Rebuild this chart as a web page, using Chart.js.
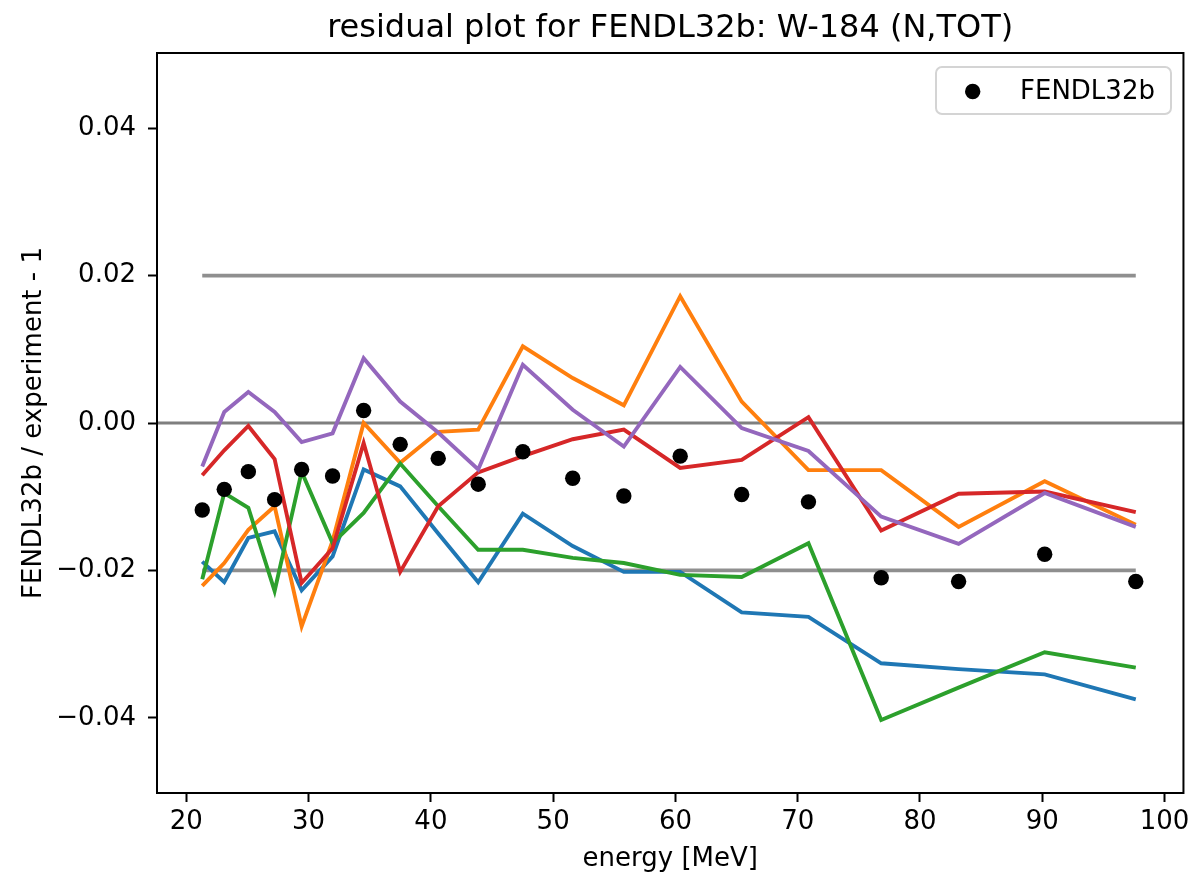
<!DOCTYPE html>
<html>
<head>
<meta charset="utf-8">
<script src="https://cdn.jsdelivr.net/npm/chart.js@4.4.0/dist/chart.umd.min.js"></script>
<style>
  html, body { margin: 0; padding: 0; background: #fff; }
  #wrap { width: 1194px; height: 878px; position: relative; }
</style>
</head>
<body>
<div id="wrap"><canvas id="chart"></canvas></div>
<script>
// energies [MeV] shared by all series
const energies = [21.3, 23.1, 25.07, 27.22, 29.43, 31.96, 34.5, 37.49, 40.6, 43.87,
                  47.52, 51.6, 55.78, 60.39, 65.42, 70.88, 76.83, 83.16, 90.2, 97.65];

// FENDL32b / experiment - 1 (black dots)
const fendl32b = [-0.0118, -0.0090, -0.0066, -0.0104, -0.0063, -0.0072, 0.0017, -0.0029, -0.0048, -0.0083,
                  -0.0039, -0.0075, -0.0099, -0.0045, -0.0097, -0.0107, -0.0210, -0.0215, -0.0178, -0.0215];

// the five coloured residual curves
const curveBlue = [-0.0188, -0.0216, -0.0156, -0.0147, -0.0227, -0.0181, -0.0063, -0.0086, -0.0150, -0.0216,
                   -0.0123, -0.0167, -0.0202, -0.0202, -0.0257, -0.0263, -0.0326, -0.0334, -0.0341, -0.0375];
const curveOrange = [-0.0221, -0.0190, -0.0145, -0.0113, -0.0276, -0.0160, 0.0000, -0.0054, -0.0012, -0.0009,
                     0.0104, 0.0061, 0.0024, 0.0172, 0.0029, -0.0064, -0.0064, -0.0141, -0.0079, -0.0138];
const curveGreen = [-0.0212, -0.0095, -0.0115, -0.0228, -0.0066, -0.0163, -0.0122, -0.0055, -0.0113, -0.0172,
                    -0.0172, -0.0183, -0.0190, -0.0206, -0.0209, -0.0163, -0.0403, -0.0359, -0.0311, -0.0332];
const curveRed = [-0.0071, -0.0037, -0.0004, -0.0049, -0.0217, -0.0170, -0.0027, -0.0202, -0.0113, -0.0067,
                  -0.0045, -0.0022, -0.0009, -0.0061, -0.0050, 0.0008, -0.0146, -0.0096, -0.0093, -0.0121];
const curvePurple = [-0.0059, 0.0015, 0.0042, 0.0015, -0.0026, -0.0014, 0.0088, 0.0029, -0.0013, -0.0063,
                     0.0079, 0.0018, -0.0032, 0.0076, -0.0007, -0.0038, -0.0127, -0.0164, -0.0095, -0.0141];

// reference lines
const bandLevels = [0.02, -0.02];
const zeroLevel = 0;

// axes
const xLimits = [17.6, 101.55];
const yLimits = [-0.0502, 0.0502];
const xTicks = [20, 30, 40, 50, 60, 70, 80, 90, 100];
const yTicks = [-0.04, -0.02, 0, 0.02, 0.04];
const yTickLabels = ['\u22120.04', '\u22120.02', '0.00', '0.02', '0.04'];

const chartTitle = 'residual plot for FENDL32b: W-184 (N,TOT)';

const FONT = 'DejaVu Sans';
Chart.defaults.font.family = FONT;
Chart.defaults.color = '#000';

const toPoints = (ys) => ys.map((y, i) => ({ x: energies[i], y: y }));
const last = energies.length - 1;

function curve(data, color) {
    return {
        data: toPoints(data),
        showLine: true,
        borderColor: color,
        backgroundColor: color,
        borderWidth: 3.9,
        pointRadius: 0,
        tension: 0,
    };
}

const datasets = [
    {
        label: 'FENDL32b',
        data: toPoints(fendl32b),
        backgroundColor: '#000',
        borderWidth: 0,
        pointRadius: 7.7,
        pointHoverRadius: 7.7,
    },
    curve(curvePurple, '#9467bd'),
    curve(curveRed, '#d62728'),
    curve(curveGreen, '#2ca02c'),
    curve(curveOrange, '#ff7f0e'),
    curve(curveBlue, '#1f77b4'),
    {
        data: [{ x: xLimits[0], y: zeroLevel }, { x: xLimits[1], y: zeroLevel }],
        showLine: true, borderColor: '#7f7f7f', borderWidth: 3, pointRadius: 0,
    },
    ...bandLevels.map(v => ({
        data: [{ x: energies[0], y: v }, { x: energies[last], y: v }],
        showLine: true, borderColor: '#8f8f8f', borderWidth: 3.9, pointRadius: 0,
    })),
];

// box around the plot area, like matplotlib spines
const framePlugin = {
    id: 'frame',
    afterDatasetsDraw(chart) {
        const { ctx, chartArea: a } = chart;
        ctx.save();
        ctx.strokeStyle = '#000';
        ctx.lineWidth = 2;
        ctx.strokeRect(a.left, a.top, a.right - a.left, a.bottom - a.top);
        ctx.restore();
    }
};

// title centred over the plot area (not the whole canvas)
const axesTitlePlugin = {
    id: 'axesTitle',
    afterDraw(chart) {
        const { ctx, chartArea: a } = chart;
        ctx.save();
        ctx.font = '32px "' + FONT + '"';
        ctx.fillStyle = '#000';
        ctx.textAlign = 'center';
        ctx.textBaseline = 'alphabetic';
        ctx.fillText(chartTitle, (a.left + a.right) / 2, a.top - 15.6);
        ctx.restore();
    }
};

// matplotlib-style legend box in the upper right corner
const boxLegendPlugin = {
    id: 'boxLegend',
    afterDraw(chart) {
        const ctx = chart.ctx;
        const ds = chart.data.datasets[0];
        const x0 = 936, y0 = 67, w = 235, h = 47, r = 6;
        ctx.save();
        ctx.beginPath();
        ctx.roundRect(x0, y0, w, h, r);
        ctx.fillStyle = 'rgba(255,255,255,0.8)';
        ctx.fill();
        ctx.strokeStyle = '#d4d4d4';
        ctx.lineWidth = 2;
        ctx.stroke();
        ctx.beginPath();
        ctx.arc(972.7, 91.5, ds.pointRadius, 0, Math.PI * 2);
        ctx.fillStyle = ds.backgroundColor;
        ctx.fill();
        ctx.font = '26px "' + FONT + '"';
        ctx.fillStyle = '#000';
        ctx.textAlign = 'left';
        ctx.textBaseline = 'alphabetic';
        ctx.fillText(ds.label, 1020, 98.5);
        ctx.restore();
    }
};

new Chart(document.getElementById('chart'), {
    type: 'scatter',
    data: { datasets: datasets },
    options: {
        responsive: true,
        maintainAspectRatio: false,
        animation: false,
        layout: { padding: { left: 0, right: 10, top: 53, bottom: 0 } },
        plugins: {
            legend: { display: false },
            tooltip: { enabled: false },
            title: { display: false },
        },
        scales: {
            x: {
                type: 'linear',
                min: xLimits[0],
                max: xLimits[1],
                afterBuildTicks: (s) => { s.ticks = xTicks.map(v => ({ value: v })); },
                afterFit: (s) => { s.height = 85; },
                grid: { drawOnChartArea: false, drawTicks: true, tickLength: 9, tickWidth: 2, tickColor: '#000' },
                border: { display: false },
                ticks: { font: { size: 26 }, color: '#000', padding: 4.5, maxRotation: 0, autoSkip: false,
                         callback: (v) => String(v) },
                title: { display: true, text: 'energy [MeV]', font: { size: 26 }, color: '#000',
                         padding: { top: 0, bottom: 3.5 } },
            },
            y: {
                type: 'linear',
                min: yLimits[0],
                max: yLimits[1],
                afterBuildTicks: (s) => { s.ticks = yTicks.map(v => ({ value: v })); },
                afterFit: (s) => { s.width = 157; },
                grid: { drawOnChartArea: false, drawTicks: true, tickLength: 9, tickWidth: 2, tickColor: '#000' },
                border: { display: false },
                ticks: { font: { size: 26 }, color: '#000', padding: 12, autoSkip: false,
                         callback: (v, i) => yTickLabels[i] },
                title: { display: true, text: 'FENDL32b / experiment - 1', font: { size: 26 }, color: '#000',
                         padding: { top: 18.9, bottom: 0 } },
            },
        },
    },
    plugins: [framePlugin, axesTitlePlugin, boxLegendPlugin],
});
</script>
</body>
</html>
